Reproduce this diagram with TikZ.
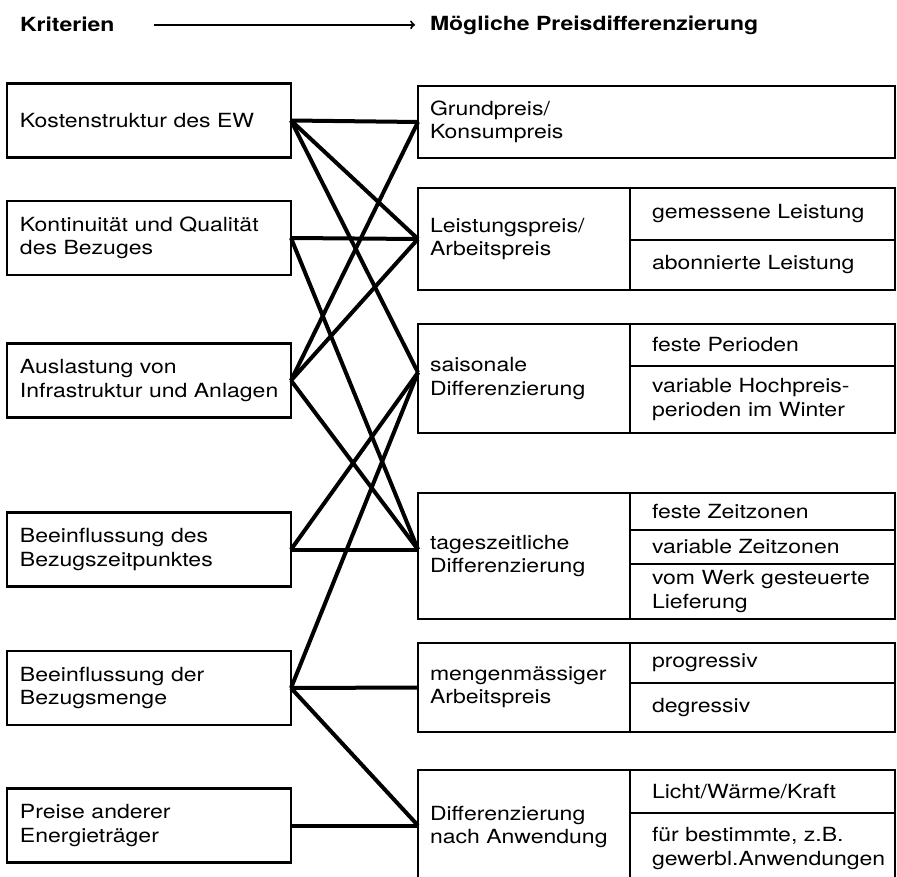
\documentclass[tikz,border=0pt]{standalone}
\usepackage{fontspec}
\setmainfont{TeX Gyre Heros}[FakeStretch=1.18]
\usetikzlibrary{arrows}

\begin{document}
\begin{tikzpicture}[x=1pt,y=-1pt]
\tikzstyle{every node}+=[inner sep=0pt,outer sep=0pt,font=\fontsize{19.5pt}{23.3pt}\selectfont]
\tikzstyle{kopf}=[anchor=base west,font=\fontsize{19.5pt}{23.3pt}\selectfont\bfseries]
\tikzstyle{kritbox}=[draw,line width=2.8pt,text width=284pt,minimum height=74pt,align=left,execute at begin node={\leftskip=13pt}]
\tikzstyle{preisbox}=[draw,line width=2.8pt,text width=212pt,align=left,execute at begin node={\leftskip=12pt}]
\tikzstyle{subbox}=[draw,line width=2.8pt,text width=265pt,align=left,anchor=north west,execute at begin node={\leftskip=22pt}]
\tikzstyle{link}=[line width=4pt]
\useasboundingbox (0,0) rectangle (897,877);
\node[kopf] (krit) at (20,32) {Kriterien};
\node[kopf] (moegl) at (430,31) {Mögliche Preisdifferenzierung};
\draw[line width=2pt,->] ([xshift=39pt]krit.east) -- ([xshift=-15pt]krit.east -| moegl.west);
\node[kritbox] (kosten) at (149,120.5) {Kostenstruktur des EW};
\node[kritbox] (kontin) at (149,238) {Kontinuität und Qualität\\des Bezuges};
\node[kritbox] (auslast) at (149,380.5) {Auslastung von\\Infrastruktur und Anlagen};
\node[kritbox] (bzeit) at (149,549.5) {Beeinflussung des\\Bezugszeitpunktes};
\node[kritbox] (bmenge) at (149,688) {Beeinflussung der\\Bezugsmenge};
\node[kritbox] (preise) at (149,825.5) {Preise anderer\\Energieträger};
\node[preisbox,text width=477pt,minimum height=72pt] (grund) at (656.5,122) {Grundpreis/\\Konsumpreis};
\node[preisbox,minimum height=102pt] (leist) at (524,239) {Leistungspreis/\\Arbeitspreis};
\node[subbox,minimum height=52pt] (leistA) at (leist.north east) {gemessene Leistung};
\node[subbox,minimum height=50pt] (leistB) at (leistA.south west) {abonnierte Leistung};
\node[preisbox,minimum height=109pt] (saison) at (524,378.5) {saisonale\\Differenzierung};
\node[subbox,minimum height=42pt] (saisonA) at (saison.north east) {feste Perioden};
\node[subbox,minimum height=67pt] (saisonB) at (saisonA.south west) {variable Hochpreis-\\perioden im Winter};
\node[preisbox,minimum height=126pt] (tages) at (524,556) {tageszeitliche\\Differenzierung};
\node[subbox,minimum height=37pt] (tagesA) at (tages.north east) {feste Zeitzonen};
\node[subbox,minimum height=34pt] (tagesB) at (tagesA.south west) {variable Zeitzonen};
\node[subbox,minimum height=55pt] (tagesC) at (tagesB.south west) {vom Werk gesteuerte\\Lieferung};
\node[preisbox,minimum height=89pt] (menge) at (524,687.5) {mengenmässiger\\Arbeitspreis};
\node[subbox,minimum height=40pt] (mengeA) at (menge.north east) {progressiv};
\node[subbox,minimum height=49pt] (mengeB) at (mengeA.south west) {degressiv};
\node[preisbox,minimum height=114pt] (anwend) at (524,827) {Differenzierung\\nach Anwendung};
\node[subbox,minimum height=43pt] (anwendA) at (anwend.north east) {Licht/Wärme/Kraft};
\node[subbox,minimum height=71pt] (anwendB) at (anwendA.south west) {für bestimmte, z.B.\\gewerbl.Anwendungen};
\coordinate (saisonin) at ([yshift=6pt]saison.west);
\coordinate (tagesin) at (bzeit.east -| tages.west);
\coordinate (anwendin) at (preise.east -| anwend.west);
\draw[link] (kosten.east) -- (grund.west);
\draw[link] (kosten.east) -- (leist.west);
\draw[link] (kosten.east) -- (saisonin);
\draw[link] (kontin.east) -- (leist.west);
\draw[link] (kontin.east) -- (tagesin);
\draw[link] (auslast.east) -- (grund.west);
\draw[link] (auslast.east) -- (leist.west);
\draw[link] (auslast.east) -- (tagesin);
\draw[link] (bzeit.east) -- (saisonin);
\draw[link] (bzeit.east) -- (tagesin);
\draw[link] (bmenge.east) -- (saisonin);
\draw[link] (bmenge.east) -- (menge.west);
\draw[link] (bmenge.east) -- (anwendin);
\draw[link] (preise.east) -- (anwendin);
\end{tikzpicture}
\end{document}
